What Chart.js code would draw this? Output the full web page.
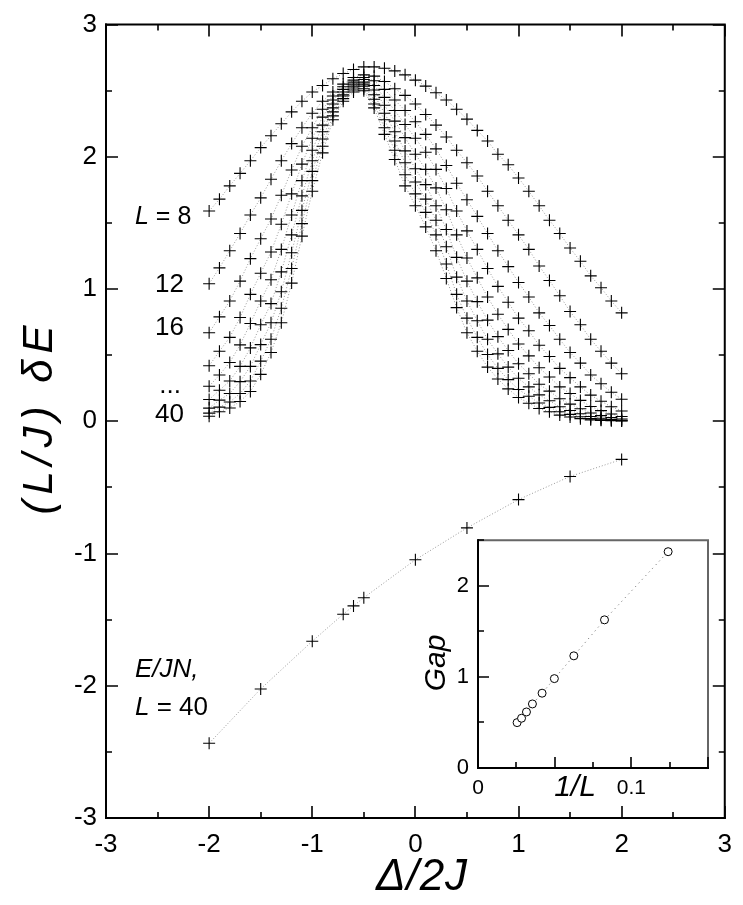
<!DOCTYPE html>
<html lang="en">
<head>
  <meta charset="UTF-8">
  <title>(L/J) dE vs Delta/2J</title>
  <script src="https://cdn.jsdelivr.net/npm/chart.js"></script>
  <style>
    html, body {
      margin: 0;
      padding: 0;
      background: #fff;
    }
    .wrap {
      position: relative;
      width: 743px;
      height: 905px;
    }
    #mainChart {
      position: absolute;
      left: 0;
      top: 0;
    }
    #insetChart {
      position: absolute;
      left: 420px;
      top: 518px;
    }
  </style>
</head>
<body>
<div class="wrap">
  <canvas id="mainChart" width="743" height="905"></canvas>
  <canvas id="insetChart" width="300" height="292"></canvas>
</div>
<script>
  // x grid of the scan, Delta/2J
  const deltaOver2J = [-2.0, -1.9, -1.8, -1.7, -1.6, -1.5, -1.4, -1.3, -1.2, -1.1, -1.0,
    -0.9, -0.8, -0.7, -0.6, -0.5, -0.4, -0.3, -0.2, -0.1, 0.0,
    0.1, 0.2, 0.3, 0.4, 0.5, 0.6, 0.7, 0.8, 0.9, 1.0,
    1.1, 1.2, 1.3, 1.4, 1.5, 1.6, 1.7, 1.8, 1.9, 2.0];

  // (L/J) dE for each chain length
  const gapL8 = [1.59, 1.68, 1.78, 1.875, 1.97, 2.07, 2.16, 2.25, 2.34, 2.42, 2.49,
    2.54, 2.59, 2.63, 2.66, 2.68, 2.68, 2.67, 2.65, 2.62, 2.58,
    2.535, 2.485, 2.43, 2.36, 2.285, 2.20, 2.12, 2.02, 1.94, 1.84,
    1.74, 1.63, 1.52, 1.42, 1.31, 1.21, 1.10, 1.01, 0.91, 0.82];
  const gapL12 = [1.04, 1.16, 1.29, 1.42, 1.56, 1.69, 1.83, 1.97, 2.10, 2.22, 2.33,
    2.42, 2.49, 2.55, 2.60, 2.62, 2.61, 2.57, 2.515, 2.465, 2.40,
    2.32, 2.24, 2.15, 2.05, 1.955, 1.855, 1.74, 1.63, 1.52, 1.41,
    1.30, 1.175, 1.065, 0.95, 0.83, 0.73, 0.62, 0.53, 0.44, 0.36];
  const gapL16 = [0.67, 0.79, 0.91, 1.06, 1.23, 1.38, 1.53, 1.71, 1.90, 2.08, 2.22,
    2.36, 2.46, 2.53, 2.58, 2.60, 2.575, 2.51, 2.43, 2.35, 2.265,
    2.17, 2.06, 1.935, 1.80, 1.675, 1.55, 1.42, 1.29, 1.17, 1.05,
    0.94, 0.82, 0.725, 0.62, 0.52, 0.44, 0.35, 0.284, 0.22, 0.167];
  const gapL20 = [0.42, 0.53, 0.635, 0.785, 0.96, 1.12, 1.28, 1.49, 1.72, 1.945, 2.14,
    2.30, 2.43, 2.51, 2.565, 2.585, 2.54, 2.45, 2.35, 2.245, 2.14,
    2.035, 1.905, 1.76, 1.59, 1.44, 1.30, 1.155, 1.02, 0.90, 0.78,
    0.685, 0.575, 0.49, 0.40, 0.33, 0.26, 0.198, 0.152, 0.11, 0.078];
  const gapL24 = [0.265, 0.35, 0.445, 0.578, 0.74, 0.91, 1.07, 1.30, 1.56, 1.82, 2.05,
    2.24, 2.40, 2.49, 2.55, 2.565, 2.505, 2.39, 2.27, 2.145, 2.02,
    1.905, 1.765, 1.60, 1.41, 1.235, 1.085, 0.94, 0.81, 0.695, 0.585,
    0.495, 0.405, 0.335, 0.26, 0.21, 0.158, 0.112, 0.081, 0.055, 0.036];
  const gapL28 = [0.165, 0.235, 0.305, 0.415, 0.555, 0.73, 0.89, 1.13, 1.41, 1.705, 1.97,
    2.19, 2.37, 2.47, 2.535, 2.55, 2.47, 2.33, 2.19, 2.045, 1.91,
    1.79, 1.63, 1.45, 1.24, 1.06, 0.905, 0.765, 0.64, 0.535, 0.435,
    0.36, 0.28, 0.228, 0.17, 0.13, 0.095, 0.063, 0.043, 0.028, 0.017];
  const gapL32 = [0.10, 0.16, 0.21, 0.30, 0.415, 0.58, 0.745, 0.98, 1.275, 1.595, 1.89,
    2.135, 2.34, 2.46, 2.52, 2.535, 2.435, 2.28, 2.12, 1.955, 1.81,
    1.68, 1.52, 1.32, 1.09, 0.91, 0.76, 0.62, 0.51, 0.41, 0.325,
    0.26, 0.20, 0.155, 0.11, 0.082, 0.057, 0.036, 0.023, 0.014, 0.008];
  const gapL36 = [0.062, 0.107, 0.146, 0.21, 0.305, 0.455, 0.62, 0.855, 1.155, 1.495, 1.82,
    2.08, 2.31, 2.44, 2.505, 2.515, 2.40, 2.22, 2.05, 1.865, 1.72,
    1.58, 1.41, 1.19, 0.96, 0.78, 0.635, 0.505, 0.40, 0.315, 0.24,
    0.19, 0.138, 0.105, 0.072, 0.052, 0.034, 0.02, 0.012, 0.007, 0.004];
  const gapL40 = [0.038, 0.072, 0.101, 0.15, 0.225, 0.355, 0.52, 0.745, 1.045, 1.40, 1.74,
    2.03, 2.28, 2.42, 2.49, 2.50, 2.37, 2.17, 1.98, 1.78, 1.63,
    1.47, 1.29, 1.08, 0.86, 0.67, 0.53, 0.41, 0.32, 0.245, 0.18,
    0.137, 0.097, 0.072, 0.047, 0.033, 0.02, 0.011, 0.007, 0.004, 0.002];

  // ground state energy per site, L = 40
  const energyDelta = [-2.0, -1.5, -1.0, -0.7, -0.6, -0.5, 0.0, 0.5, 1.0, 1.5, 2.0];
  const energyPerSite = [-2.435, -2.024, -1.663, -1.459, -1.396, -1.334, -1.047, -0.806, -0.592, -0.417, -0.288];

  // inset: gap at the peak against 1/L
  const insetInvL = [0.0255, 0.0284, 0.0316, 0.0355, 0.0418, 0.0498, 0.0625, 0.0825, 0.124];
  const insetGap = [0.498, 0.546, 0.615, 0.703, 0.821, 0.981, 1.231, 1.626, 2.374];

  // tick labels
  const mainTicks = [-3, -2, -1, 0, 1, 2, 3];
  const insetXLabels = [0, 0.1];
  const insetYLabels = [0, 1, 2];

  const FONT = '"Liberation Sans", Arial, Helvetica, sans-serif';

  const gapSeries = [gapL8, gapL12, gapL16, gapL20, gapL24, gapL28, gapL32, gapL36, gapL40];

  function crossSet(xs, ys) {
    return {
      data: xs.map((x, i) => ({ x: x, y: ys[i] })),
      showLine: true,
      borderColor: 'rgba(0,0,0,0.4)',
      borderWidth: 1,
      borderDash: [1, 2],
      pointStyle: 'cross',
      pointRadius: 6,
      pointBorderColor: '#000',
      pointBorderWidth: 1.1
    };
  }

  const mainSets = gapSeries.map(s => crossSet(deltaOver2J, s));
  mainSets.push(crossSet(energyDelta, energyPerSite));

  // frame + inward ticks, drawn from the scales
  function frameTicks(opts) {
    return {
      id: 'frameTicks',
      beforeDraw(chart) {
        if (!opts.fill) return;
        const a = chart.chartArea, ctx = chart.ctx;
        ctx.save();
        ctx.fillStyle = '#fff';
        ctx.fillRect(a.left, a.top, a.right - a.left, a.bottom - a.top);
        ctx.restore();
      },
      afterDraw(chart) {
        const a = chart.chartArea, ctx = chart.ctx;
        const xs = chart.scales.x, ys = chart.scales.y;
        ctx.save();
        ctx.lineWidth = 2;
        ctx.lineCap = 'square';
        // box
        ctx.strokeStyle = opts.farColor;
        ctx.beginPath();
        ctx.moveTo(a.left, a.top); ctx.lineTo(a.right, a.top); ctx.lineTo(a.right, a.bottom);
        ctx.stroke();
        ctx.strokeStyle = '#000';
        ctx.beginPath();
        ctx.moveTo(a.left, a.top); ctx.lineTo(a.left, a.bottom); ctx.lineTo(a.right, a.bottom);
        ctx.stroke();
        ctx.lineWidth = 1.6;
        ctx.lineCap = 'butt';
        ctx.beginPath();
        xs.ticks.forEach(t => {
          const px = Math.round(xs.getPixelForValue(t.value));
          const len = opts.isMajorX(t.value) ? opts.major : opts.minor;
          ctx.moveTo(px, a.bottom); ctx.lineTo(px, a.bottom - len);
          if (opts.allSides) { ctx.moveTo(px, a.top); ctx.lineTo(px, a.top + len); }
        });
        ys.ticks.forEach(t => {
          const py = Math.round(ys.getPixelForValue(t.value));
          const len = opts.isMajorY(t.value) ? opts.major : opts.minor;
          ctx.moveTo(a.left, py); ctx.lineTo(a.left + len, py);
          if (opts.allSides) { ctx.moveTo(a.right, py); ctx.lineTo(a.right - len, py); }
        });
        ctx.stroke();
        ctx.restore();
      }
    };
  }

  const isInt = v => Math.abs(v - Math.round(v)) < 1e-6;
  const findLabel = (v, list) => list.find(t => Math.abs(t - v) < 1e-6);

  // text annotations and axis titles
  const textPlugin = {
    id: 'mainText',
    afterDraw(chart) {
      const ctx = chart.ctx;
      ctx.save();
      ctx.fillStyle = '#000';
      ctx.textBaseline = 'alphabetic';

      function mixed(parts, x, y, size) {
        let cx = x;
        parts.forEach(p => {
          ctx.font = (p[1] ? 'italic ' : '') + size + 'px ' + FONT;
          ctx.fillText(p[0], cx, y);
          cx += ctx.measureText(p[0]).width;
        });
      }
      mixed([['L', true], [' = 8', false]], 135, 224, 25);
      ctx.font = '26px ' + FONT;
      ctx.textAlign = 'right';
      ctx.fillText('12', 184, 292);
      ctx.fillText('16', 184, 335);
      ctx.fillText('...', 181, 393);
      ctx.fillText('40', 184, 422);
      ctx.textAlign = 'left';
      mixed([['E/JN,', true]], 135, 677, 26);
      mixed([['L', true], [' = 40', false]], 135, 715, 26);

      // axis titles
      ctx.textAlign = 'center';
      ctx.textBaseline = 'middle';
      ctx.font = 'italic 44px ' + FONT;
      ctx.letterSpacing = '1px';
      ctx.fillText('\u0394/2J', 422, 878);
      ctx.font = 'italic 42px ' + FONT;
      ctx.letterSpacing = '6px';
      ctx.translate(40, 420);
      ctx.rotate(-Math.PI / 2);
      ctx.fillText('(L/J) \u03b4E', 3, 0);
      ctx.restore();
    }
  };

  new Chart(document.getElementById('mainChart'), {
    type: 'scatter',
    data: { datasets: mainSets },
    options: {
      responsive: false,
      animation: false,
      events: [],
      layout: { padding: { top: 15, right: 7, left: 0, bottom: 0 } },
      plugins: { legend: { display: false }, tooltip: { enabled: false } },
      scales: {
        x: {
          type: 'linear',
          min: mainTicks[0],
          max: mainTicks[mainTicks.length - 1],
          afterFit(s) { s.height = 87; },
          grid: { display: false, drawTicks: false },
          border: { display: false },
          ticks: {
            stepSize: 0.5,
            autoSkip: false,
            maxRotation: 0,
            padding: 11,
            color: '#000',
            font: { size: 26, family: FONT },
            callback: v => mainTicks.includes(v) ? String(v) : ''
          }
        },
        y: {
          type: 'linear',
          min: mainTicks[0],
          max: mainTicks[mainTicks.length - 1],
          afterFit(s) { s.width = 106; },
          grid: { display: false, drawTicks: false },
          border: { display: false },
          ticks: {
            stepSize: 0.5,
            autoSkip: false,
            padding: 9,
            color: '#000',
            font: { size: 26, family: FONT },
            callback: v => mainTicks.includes(v) ? String(v) : ''
          }
        }
      }
    },
    plugins: [frameTicks({ fill: false, farColor: '#000', allSides: true, major: 12, minor: 6, isMajorX: isInt, isMajorY: isInt }), textPlugin]
  });

  // inset
  const insetText = {
    id: 'insetText',
    afterDraw(chart) {
      const ctx = chart.ctx;
      ctx.save();
      ctx.fillStyle = '#000';
      ctx.textAlign = 'center';
      ctx.textBaseline = 'middle';
      ctx.font = 'italic 30px ' + FONT;
      ctx.fillText('1/L', 155, 270);
      ctx.translate(17, 145);
      ctx.rotate(-Math.PI / 2);
      ctx.fillText('Gap', 0, 0);
      ctx.restore();
    }
  };

  new Chart(document.getElementById('insetChart'), {
    type: 'scatter',
    data: {
      datasets: [{
        data: insetInvL.map((x, i) => ({ x: x, y: insetGap[i] })),
        showLine: true,
        borderColor: 'rgba(0,0,0,0.6)',
        borderWidth: 1,
        borderDash: [1, 4],
        pointStyle: 'circle',
        pointRadius: 4,
        pointBorderColor: '#000',
        pointBackgroundColor: '#fff',
        pointBorderWidth: 1
      }]
    },
    options: {
      responsive: false,
      animation: false,
      events: [],
      layout: { padding: { top: 22, right: 12, left: 0, bottom: 0 } },
      plugins: { legend: { display: false }, tooltip: { enabled: false } },
      scales: {
        x: {
          type: 'linear',
          min: 0,
          max: 0.15,
          afterFit(s) { s.height = 42; },
          grid: { display: false, drawTicks: false },
          border: { display: false },
          ticks: {
            stepSize: 0.025,
            autoSkip: false,
            maxRotation: 0,
            padding: 8,
            color: '#000',
            font: { size: 21, family: FONT },
            callback: v => {
              const t = findLabel(v, insetXLabels);
              return t === undefined ? '' : String(t);
            }
          }
        },
        y: {
          type: 'linear',
          min: 0,
          max: 2.5,
          afterFit(s) { s.width = 58; },
          grid: { display: false, drawTicks: false },
          border: { display: false },
          ticks: {
            stepSize: 0.5,
            autoSkip: false,
            padding: 9,
            color: '#000',
            font: { size: 22, family: FONT },
            callback: v => {
              const t = findLabel(v, insetYLabels);
              return t === undefined ? '' : String(t);
            }
          }
        }
      }
    },
    plugins: [
      frameTicks({
        fill: true, farColor: '#666', allSides: false, major: 11, minor: 6,
        isMajorX: v => findLabel(v, [0, 0.05, 0.1, 0.15]) !== undefined, isMajorY: isInt
      }),
      insetText
    ]
  });
</script>
</body>
</html>
